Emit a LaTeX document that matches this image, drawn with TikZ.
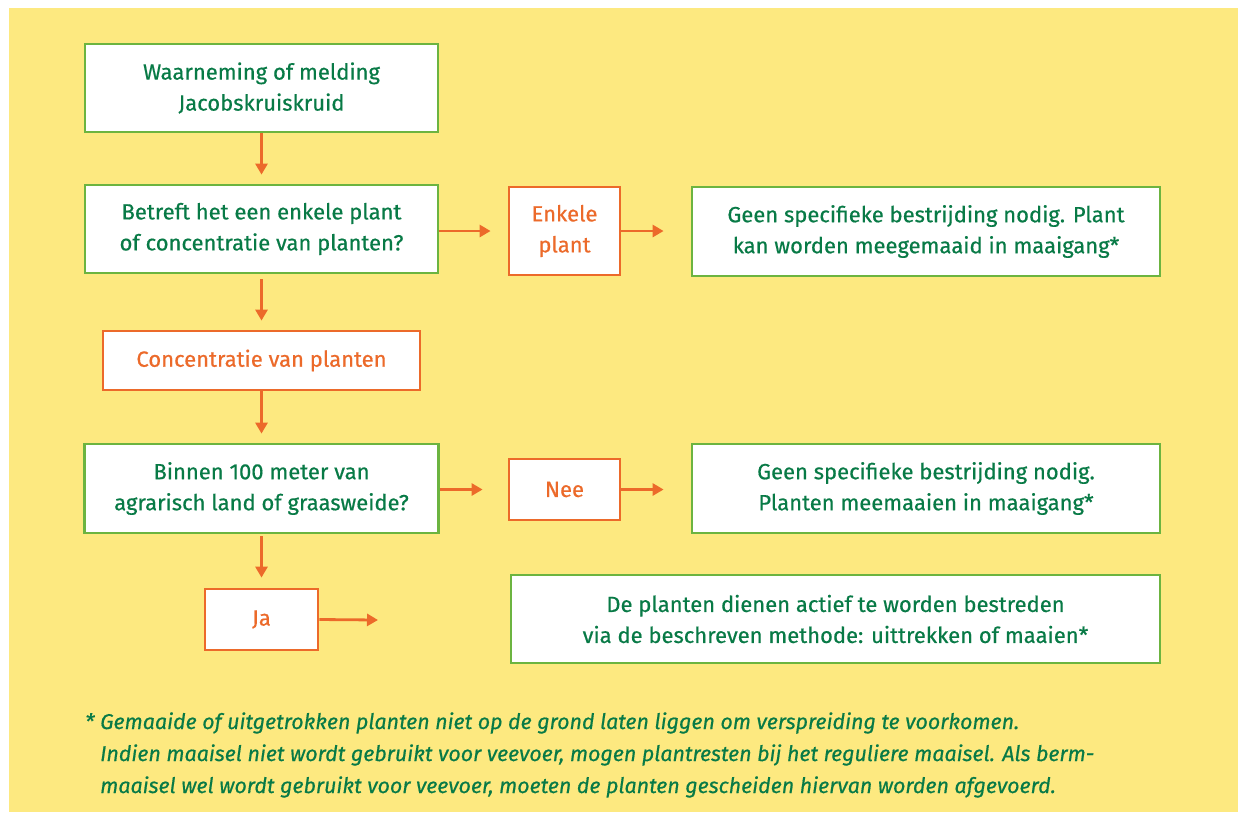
\documentclass[tikz,border=0pt]{standalone}
\usepackage{fontspec}
\setmainfont{Fira Sans}[FakeBold=0.5]
\usetikzlibrary{arrows.meta}
\definecolor{bgyellow}{RGB}{253,233,128}
\definecolor{boxgreen}{RGB}{108,180,64}
\definecolor{txtgreen}{RGB}{8,122,70}
\definecolor{orng}{RGB}{236,106,42}
\tikzset{
  gbox/.style={draw=boxgreen, line width=2.8pt, fill=white, text=txtgreen, align=center, inner sep=0pt, font=\fontsize{22}{31}\selectfont},
  obox/.style={draw=orng, line width=2.8pt, fill=white, text=orng, align=center, inner sep=0pt, font=\fontsize{22}{31}\selectfont},
  arr/.style={draw=orng, line width=2.8pt, -{Triangle[length=11pt,width=12pt]}},
}
\begin{document}
\begin{tikzpicture}[x=1pt,y=-1pt]
\useasboundingbox (0,0) rectangle (1238,812);
\fill[white] (0,0) rectangle (1238,812);
\fill[bgyellow] (9,8) rectangle (1238,812);

\node[gbox, minimum width=353pt, minimum height=88pt] (b1) at (261.5,88) {Waarneming of melding\\Jacobskruiskruid};
\node[gbox, minimum width=353pt, minimum height=88pt] (b2) at (261.5,229) {Betreft het een enkele plant\\of concentratie van planten?};
\node[obox, minimum width=317pt, minimum height=59pt] (b3) at (261.5,360.5) {Concentratie van planten};
\node[gbox, minimum width=354pt, minimum height=89pt] (b4) at (261.5,488.5) {Binnen 100 meter van\\agrarisch land of graasweide?};
\node[obox, minimum width=113pt, minimum height=61pt] (ja) at (261.5,619.5) {Ja};
\node[obox, minimum width=111pt, minimum height=88pt] (enk) at (564.5,231) {Enkele\\plant};
\node[gbox, minimum width=468pt, minimum height=89pt] (r1) at (926,231.5) {Geen specifieke bestrijding nodig. Plant\\kan worden meegemaaid in maaigang*};
\node[obox, minimum width=111pt, minimum height=61pt] (nee) at (564.5,489.5) {Nee};
\node[gbox, minimum width=468pt, minimum height=89pt] (r2) at (926,488.5) {Geen specifieke bestrijding nodig.\\Planten meemaaien in maaigang*};
\node[gbox, minimum width=649pt, minimum height=88pt] (r3) at (835.5,619) {De planten dienen actief te worden bestreden\\via de beschreven methode: uittrekken of maaien*};
\coordinate (jaend) at (378,620);

\draw[arr, shorten >=9pt] (b1.south) -- (b2.north);
\draw[arr, shorten <=5pt, shorten >=9pt] (b2.south) -- (b3.north);
\draw[arr, shorten >=9pt] (b3.south) -- (b4.north);
\draw[arr, shorten <=2pt, shorten >=10pt] (b4.south) -- (ja.north);
\draw[arr, shorten >=17pt] (b2.east |- enk.west) -- (enk.west);
\draw[arr, shorten >=27pt] (enk.east) -- (r1.west |- enk.east);
\draw[arr, shorten >=25pt] (b4.east |- nee.west) -- (nee.west);
\draw[arr, shorten >=27pt] (nee.east) -- (r2.west |- nee.east);
\draw[arr] (ja.east) -- (jaend);

\node[anchor=base west, text=txtgreen, inner sep=0pt, align=left, font=\fontsize{21.4}{32}\selectfont\itshape] (note) at (85,793)
{\makebox[15pt][l]{*}Gemaaide of uitgetrokken planten niet op de grond laten liggen om verspreiding te voorkomen.\\
\hspace*{15pt}Indien maaisel niet wordt gebruikt voor veevoer, mogen plantresten bij het reguliere maaisel. Als berm-\\
\hspace*{15pt}maaisel wel wordt gebruikt voor veevoer, moeten de planten gescheiden hiervan worden afgevoerd.};
\end{tikzpicture}
\end{document}
